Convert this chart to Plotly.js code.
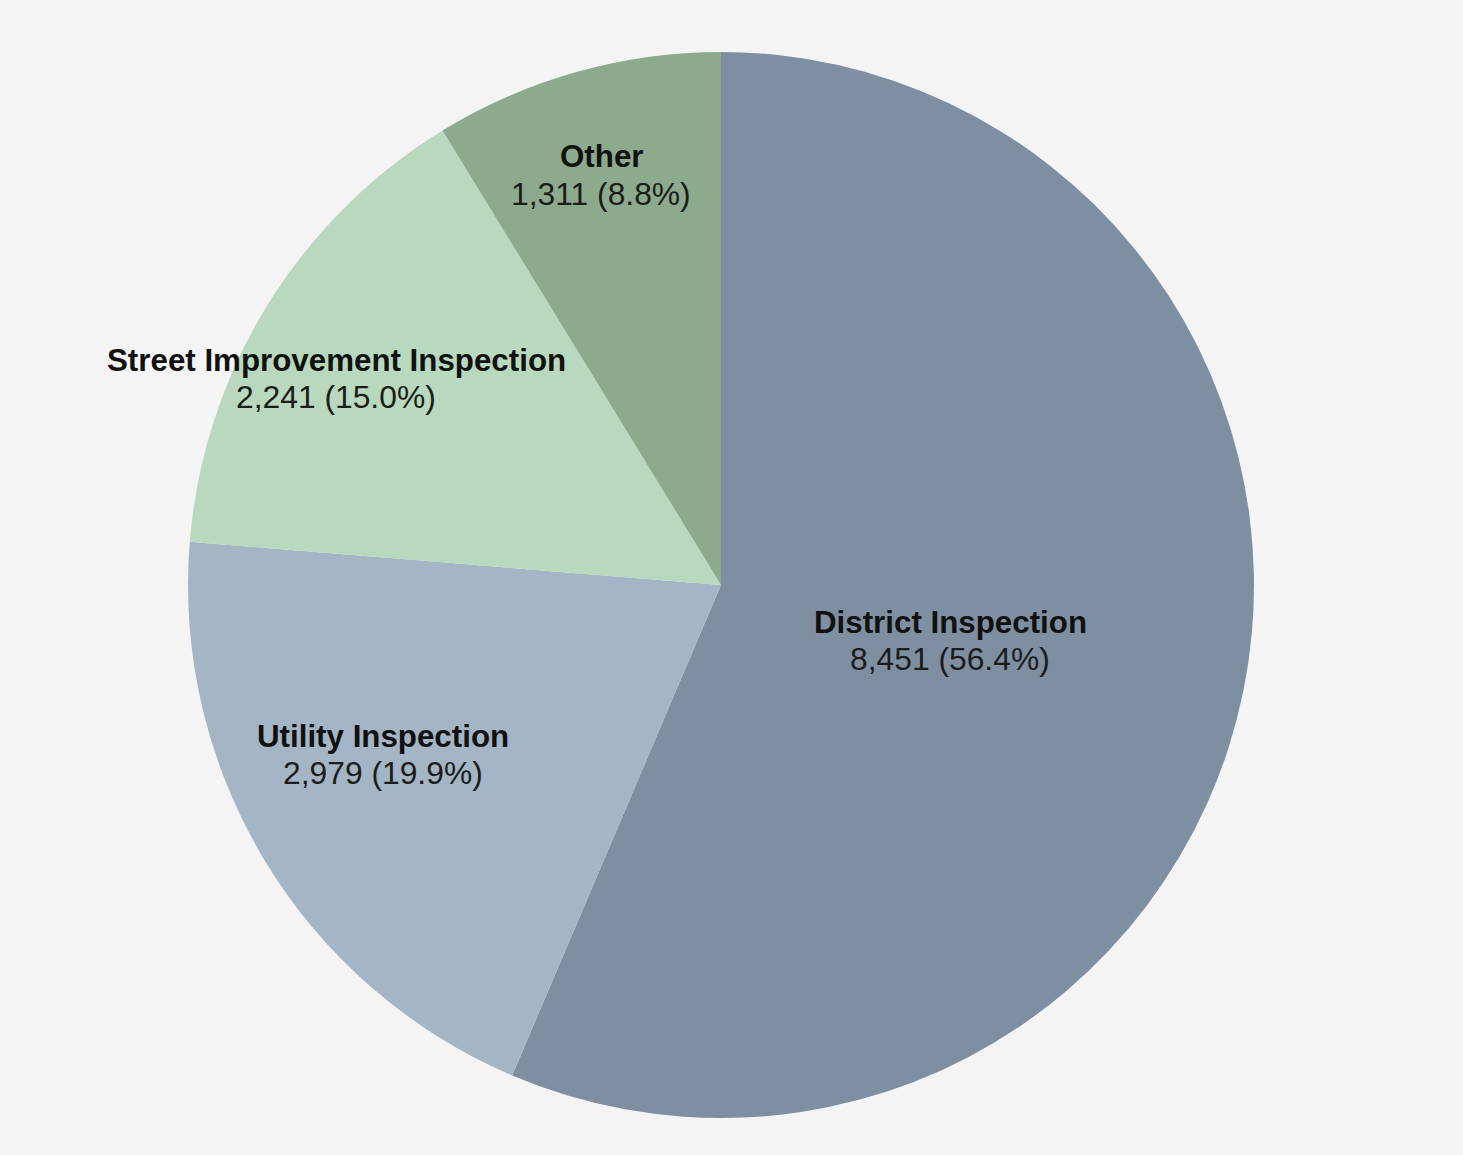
<!DOCTYPE html>
<html>
<head>
<meta charset="utf-8">
<script src="https://cdn.plot.ly/plotly-3.0.1.min.js"></script>
<style>
  html, body { margin: 0; padding: 0; background: #f4f4f4; }
  #chart { width: 1463px; height: 1155px; }
</style>
</head>
<body>
<div id="chart"></div>
<script>
// ---- data ----
const categories = ["District Inspection", "Utility Inspection", "Street Improvement Inspection", "Other"];
const counts = [8451, 2979, 2241, 1311];
const sliceColors = ["#7f8fa2", "#a4b5c6", "#b8d9bd", "#8cab8c"];

// label anchor positions (pixels in the 1463x1155 frame), kept separate from data
const labelPos = [[950, 622], [383, 736], [336, 360], [601, 157]];

const W = 1463, H = 1155;
const total = counts.reduce((a, b) => a + b, 0);

const annotations = [];
categories.forEach((name, i) => {
  const [px, py] = labelPos[i];
  const pct = (counts[i] / total * 100).toFixed(1);
  annotations.push({
    xref: "paper", yref: "paper", x: px / W, y: 1 - py / H,
    xanchor: "center", yanchor: "middle", showarrow: false,
    text: "<b>" + name + "</b>",
    font: { family: "Liberation Sans, Arial, sans-serif", size: 31.3, color: "#111111" }
  });
  annotations.push({
    xref: "paper", yref: "paper", x: px / W, y: 1 - (py + 37) / H,
    xanchor: "center", yanchor: "middle", showarrow: false,
    text: counts[i].toLocaleString("en-US") + " (" + pct + "%)",
    font: { family: "Liberation Sans, Arial, sans-serif", size: 31.8, color: "#1c1c1c" }
  });
});

const trace = {
  type: "pie",
  labels: categories,
  values: counts,
  sort: false,
  direction: "clockwise",
  rotation: 0,
  textinfo: "none",
  marker: { colors: sliceColors, line: { width: 0 } },
  domain: { x: [0, 1442 / W], y: [37 / H, 1 - 52 / H] },
  showlegend: false
};

const layout = {
  width: W, height: H,
  margin: { l: 0, r: 0, t: 0, b: 0 },
  paper_bgcolor: "#f4f4f4",
  plot_bgcolor: "#f4f4f4",
  showlegend: false,
  annotations: annotations
};

Plotly.newPlot("chart", [trace], layout, { displayModeBar: false, staticPlot: true });
</script>
</body>
</html>
